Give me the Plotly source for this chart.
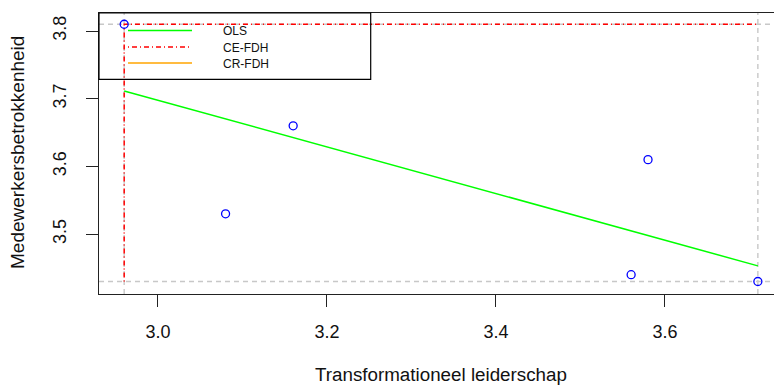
import numpy as np
import plotly.graph_objects as go

# Data
leiderschap = [2.96, 3.08, 3.16, 3.56, 3.58, 3.71]
betrokkenheid = [3.81, 3.53, 3.66, 3.44, 3.61, 3.43]

# CE-FDH ceiling (step)
ce_x = [2.96, 2.96, 3.71]
ce_y = [3.43, 3.81, 3.81]

x_ticks = [3.0, 3.2, 3.4, 3.6]
y_ticks = [3.5, 3.6, 3.7, 3.8]
legend_names = ["OLS", "CE-FDH", "CR-FDH"]
legend_colors = ["#00FF00", "#FF0000", "#FFA500"]
legend_dash = ["solid", "1px,3px,5px,3px", "solid"]

FONT = "Liberation Sans, Arial, sans-serif"

xmin, xmax = min(leiderschap), max(leiderschap)
ymin, ymax = min(betrokkenheid), max(betrokkenheid)

# OLS fit
slope, intercept = np.polyfit(leiderschap, betrokkenheid, 1)
ols_x = [xmin, xmax]
ols_y = [intercept + slope * v for v in ols_x]

fig = go.Figure()

XR = [2.9302, 3.7291]
YR = [3.4115, 3.8266]

gray = dict(color="#C8C8C8", width=1.4, dash="5px,4px")
# scope lines
for yy in [ymin, ymax]:
    fig.add_trace(go.Scatter(x=XR, y=[yy, yy], mode="lines", line=gray,
                             hoverinfo="skip", showlegend=False))
for xx in [xmin, xmax]:
    fig.add_trace(go.Scatter(x=[xx, xx], y=YR, mode="lines", line=gray,
                             hoverinfo="skip", showlegend=False))

fig.add_trace(go.Scatter(x=ols_x, y=ols_y, mode="lines",
                         line=dict(color="#00FF00", width=1.5),
                         name="OLS", showlegend=False))
fig.add_trace(go.Scatter(x=ce_x, y=ce_y, mode="lines",
                         line=dict(color="#FF0000", width=1.5, dash="1px,3px,5px,3px"),
                         name="CE-FDH", showlegend=False))
fig.add_trace(go.Scatter(x=leiderschap, y=betrokkenheid, mode="markers",
                         marker=dict(symbol="circle-open", size=8,
                                     color="#0000FF", line=dict(width=1.3, color="#0000FF")),
                         showlegend=False))

# Manual legend box (paper coordinates)
L, T, W, H = 99, 13, 675, 281
def px(xp):
    return (xp - L) / W
def py(yp):
    return (T + H - yp) / H

shapes = [dict(type="rect", xref="paper", yref="paper", x0=0, x1=px(370.7),
               y0=py(79.3), y1=1, line=dict(color="black", width=1.2),
               fillcolor="rgba(0,0,0,0)")]
annotations = []
rows = [30.5, 47, 63]
for name, col, dash, r in zip(legend_names, legend_colors, legend_dash, rows):
    shapes.append(dict(type="line", xref="paper", yref="paper",
                       x0=px(128), x1=px(192), y0=py(r), y1=py(r),
                       line=dict(color=col, width=1.5, dash=dash)))
    annotations.append(dict(text=name, xref="paper", yref="paper",
                            x=px(221), y=py(r + 1), xanchor="left", yanchor="middle",
                            showarrow=False, font=dict(family=FONT, size=12, color="#111")))

annotations.append(dict(text="Transformationeel leiderschap", xref="paper", yref="paper",
                        x=px(441), y=py(374.5), xanchor="center", yanchor="middle",
                        showarrow=False, font=dict(family=FONT, size=18.8, color="#111")))
annotations.append(dict(text="Medewerkersbetrokkenheid", xref="paper", yref="paper",
                        x=px(17), y=py(153), xanchor="center", yanchor="middle",
                        textangle=-90,
                        showarrow=False, font=dict(family=FONT, size=19, color="#111")))

fig.update_layout(
    width=774, height=385,
    margin=dict(l=L, r=0, t=T, b=385 - T - H, pad=0),
    paper_bgcolor="white", plot_bgcolor="white",
    shapes=shapes, annotations=annotations,
    showlegend=False,
)
fig.update_xaxes(range=XR, tickvals=x_ticks, ticktext=[f"{v:.1f}" for v in x_ticks],
                 showgrid=False, zeroline=False, showline=True, linecolor="#222",
                 linewidth=1.2, mirror=True, ticks="outside", ticklen=12, tickwidth=1.2,
                 tickcolor="#222", tickfont=dict(family=FONT, size=18, color="#111"),
                 ticklabelstandoff=9)
fig.update_yaxes(range=YR, tickvals=y_ticks, ticktext=[f"{v:.1f}" for v in y_ticks],
                 showgrid=False, zeroline=False, showline=True, linecolor="#222",
                 linewidth=1.2, ticks="outside", ticklen=12, tickwidth=1.2,
                 tickcolor="#222", tickangle=-90,
                 tickfont=dict(family=FONT, size=18, color="#111"),
                 ticklabelstandoff=13)

fig.write_html("out.html")
